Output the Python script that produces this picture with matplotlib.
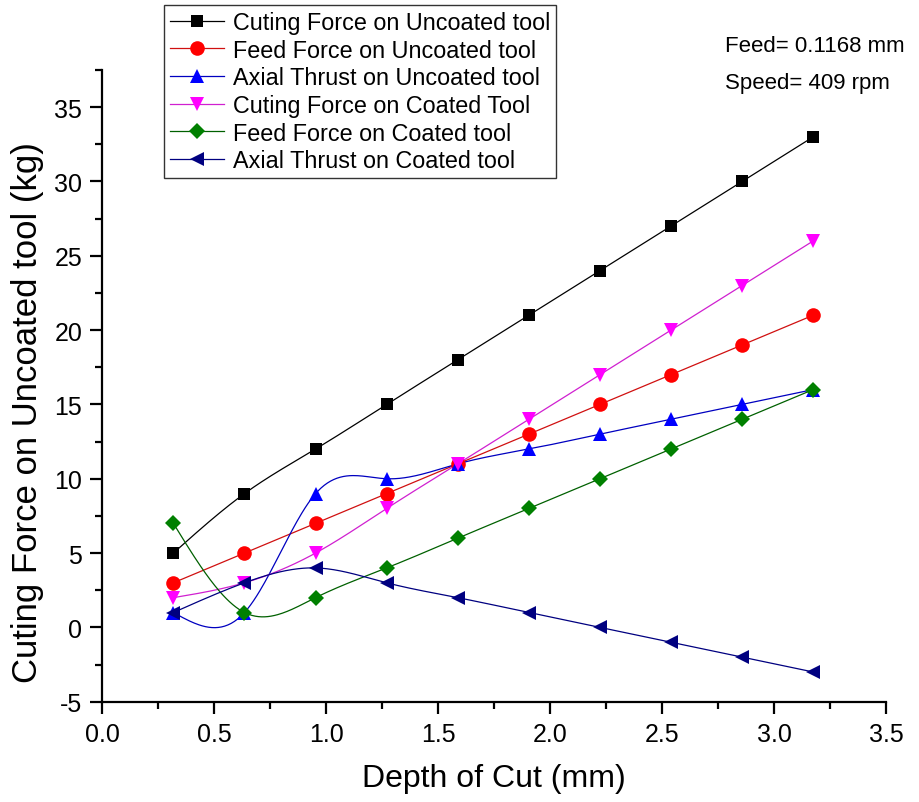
import numpy as np
import matplotlib
matplotlib.use("Agg")
import matplotlib.pyplot as plt
from matplotlib.ticker import MultipleLocator, FormatStrFormatter

# depth of cut (mm), 1/8" steps
depth = [0.3175, 0.635, 0.9525, 1.27, 1.5875, 1.905, 2.2225, 2.54, 2.8575, 3.175]

cutting_uncoated = [5, 9, 12, 15, 18, 21, 24, 27, 30, 33]
feed_uncoated = [3, 5, 7, 9, 11, 13, 15, 17, 19, 21]
axial_uncoated = [1, 1, 9, 10, 11, 12, 13, 14, 15, 16]
cutting_coated = [2, 3, 5, 8, 11, 14, 17, 20, 23, 26]
feed_coated = [7, 1, 2, 4, 6, 8, 10, 12, 14, 16]
axial_coated = [1, 3, 4, 3, 2, 1, 0, -1, -2, -3]

labels = [
    "Cuting Force on Uncoated tool",
    "Feed Force on Uncoated tool",
    "Axial Thrust on Uncoated tool",
    "Cuting Force on Coated Tool",
    "Feed Force on Coated tool",
    "Axial Thrust on Coated tool",
]


def natural_spline(x, y, n=400):
    """Curva de spline cúbica natural para dibujar la línea entre puntos."""
    x = np.asarray(x, float)
    y = np.asarray(y, float)
    k = len(x)
    h = np.diff(x)
    A = np.zeros((k, k))
    b = np.zeros(k)
    A[0, 0] = A[-1, -1] = 1.0
    for i in range(1, k - 1):
        A[i, i - 1] = h[i - 1]
        A[i, i] = 2 * (h[i - 1] + h[i])
        A[i, i + 1] = h[i]
        b[i] = 6 * ((y[i + 1] - y[i]) / h[i] - (y[i] - y[i - 1]) / h[i - 1])
    M = np.linalg.solve(A, b)
    xs = np.linspace(x[0], x[-1], n)
    idx = np.clip(np.searchsorted(x, xs) - 1, 0, k - 2)
    x0, x1 = x[idx], x[idx + 1]
    hi = x1 - x0
    t0 = x1 - xs
    t1 = xs - x0
    ys = (M[idx] * t0 ** 3 / (6 * hi) + M[idx + 1] * t1 ** 3 / (6 * hi)
          + (y[idx] / hi - M[idx] * hi / 6) * t0
          + (y[idx + 1] / hi - M[idx + 1] * hi / 6) * t1)
    return xs, ys


plt.rcParams['font.family'] = ['Liberation Sans', 'DejaVu Sans']
plt.rcParams['axes.unicode_minus'] = False

fig = plt.figure(figsize=(9.19, 8.03), dpi=100)
ax = fig.add_axes([0.1113, 0.1249, 0.8528, 0.7867])

series = [
    (cutting_uncoated, 's', 'black', 'black', 9),
    (feed_uncoated, 'o', 'red', '#d01010', 10.5),
    (axial_uncoated, '^', 'blue', '#0000c0', 10.5),
    (cutting_coated, 'v', 'magenta', '#d020d0', 10.5),
    (feed_coated, 'D', 'green', '#006000', 8.5),
    (axial_coated, '<', 'navy', 'navy', 10.5),
]

for (vals, mk, mcol, lcol, ms), lab in zip(series, labels):
    xs, ys = natural_spline(depth, vals)
    ax.plot(xs, ys, color=lcol, lw=0.9, zorder=2)
    ax.plot(depth, vals, linestyle='none', marker=mk, color=mcol,
            markersize=ms, markeredgewidth=0, zorder=3)
    # entrada de leyenda con línea y marcador
    ax.plot([], [], color=lcol, lw=0.9, marker=mk, markerfacecolor=mcol,
            markeredgewidth=0, markersize=ms, label=lab)

ax.set_xlim(0, 3.5)
ax.set_ylim(-5, 37.5)
ax.xaxis.set_major_locator(MultipleLocator(0.5))
ax.xaxis.set_minor_locator(MultipleLocator(0.25))
ax.yaxis.set_major_locator(MultipleLocator(5))
ax.yaxis.set_minor_locator(MultipleLocator(2.5))
ax.xaxis.set_major_formatter(FormatStrFormatter('%.1f'))

for side in ('top', 'right'):
    ax.spines[side].set_visible(False)
for side in ('left', 'bottom'):
    ax.spines[side].set_linewidth(1.6)

ax.tick_params(which='major', direction='out', length=8.5, width=1.6,
               labelsize=18, pad=6)
ax.tick_params(which='minor', direction='out', length=5, width=1.6)

ax.set_xlabel('Depth of Cut (mm)', fontsize=23, labelpad=12)
ax.set_ylabel('Cuting Force on Uncoated tool (kg)', fontsize=25)
ax.yaxis.set_label_coords(-0.074, 0.46)

leg = fig.legend(loc='upper left', bbox_to_anchor=(164 / 919, 1 - 6 / 803),
                 fontsize=16.8, frameon=True, fancybox=False,
                 handlelength=2.3, handletextpad=0.4, labelspacing=0.2,
                 borderpad=0.25, borderaxespad=0)
leg.get_frame().set_edgecolor('black')
leg.get_frame().set_linewidth(1.0)

fig.text(725 / 919, 1 - 46 / 803, 'Feed= 0.1168 mm', fontsize=16,
         va='center', ha='left')
fig.text(725 / 919, 1 - 84 / 803, 'Speed= 409 rpm', fontsize=16,
         va='center', ha='left')

fig.savefig('out.png', dpi=100)
